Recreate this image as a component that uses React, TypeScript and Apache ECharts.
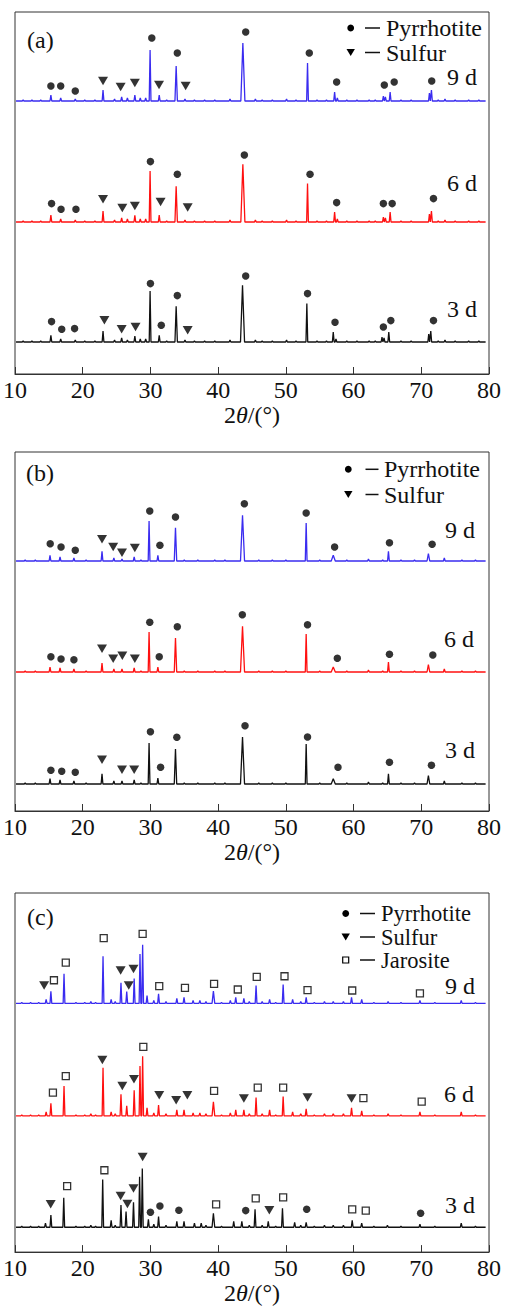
import React, { useEffect, useRef } from "react";
import * as echarts from "echarts";

type Peak = [number, number] | [number, number, number];
type Pt = [number, number];

// ---------- axis ----------
const X_MIN = 10;
const X_MAX = 80;
const X_STEP = 10;
const TRACE_START = 10.15;
const TRACE_END = 79.5;
const X_NAME = "2{i|θ}/(°)";
const DAYS = ["3 d", "6 d", "9 d"];
const PHASES = ["Pyrrhotite", "Sulfur", "Jarosite"];
const PANEL_TAGS = ["(a)", "(b)", "(c)"];

// ---------- panel (a): peaks [2θ, intensity above baseline, half-width?] ----------
const peaksA9: Peak[] = [[11.2,1],[12.5,1],[13.8,1],[15.3,6],[16.75,3],[18.9,2],[20.3,1],[21.8,1],[23.0,11],[24.7,2],[25.75,4],[26.6,3],[27.7,6],[28.5,3],[29.3,3],[29.95,51],[31.3,6],[32.4,1],[33.8,35,0.18],[35.1,2],[36.5,1],[38,1],[39.5,1],[41.75,2],[43.65,58,0.3],[45.5,2],[46.5,1],[48,1],[50.1,2],[51.5,1],[53.2,38],[54.6,1],[56,1],[57.2,9],[57.6,3],[59,1],[60.5,1],[62.3,1],[63.2,1],[64.4,5],[64.7,4],[65.4,9],[67,1],[68.5,1],[71.2,8],[71.5,11],[72.5,1],[73.5,2],[75,1],[77,1],[78.5,1]];
const peaksA6: Peak[] = [[11.2,1],[12.5,1],[13.8,1],[15.3,7],[16.75,3],[18.9,2],[20.3,1],[21.8,1],[23.0,11],[24.7,2],[25.75,4],[26.6,3],[27.7,6.7],[28.5,3],[29.3,3],[29.95,51],[31.3,7],[32.4,1],[33.8,35.7,0.18],[35.1,2],[36.5,1],[38,1],[39.5,1],[41.75,2],[43.65,57.7,0.3],[45.5,2],[46.5,1],[48,1],[50.1,2],[51.5,1],[53.2,38.4],[54.6,1],[56,1],[57.2,10],[57.6,3],[59,1],[60.5,1],[62.3,1],[63.2,1],[64.4,5],[64.7,4],[65.4,10],[67,1],[68.5,1],[71.2,8],[71.5,11],[72.5,1],[73.5,2],[75,1],[77,1],[78.5,1]];
const peaksA3: Peak[] = [[11.2,1],[12.5,1],[13.8,1],[15.3,6.7],[16.75,3],[18.9,2],[20.3,1],[21.8,1],[23.0,11],[24.7,2],[25.75,4],[26.6,2],[27.7,6],[28.5,3],[29.3,3],[29.95,51],[31.3,6.7],[32.4,1],[33.8,35.7,0.18],[35.1,2],[36.5,1],[38,1],[39.5,1],[41.75,2],[43.6,56.7,0.3],[45.5,2],[46.5,1],[48,1],[50.1,2],[51.5,1],[53.1,38.4],[54.6,1],[56,1],[57.0,10],[57.4,3],[59,1],[60.5,1],[62.3,1],[63.2,1],[64.2,5],[64.5,4],[65.2,10],[67,1],[68.5,1],[71.1,8],[71.4,11],[72.5,1],[73.5,2],[75,1],[77,1],[78.5,1]];
const offsetsA = [32, 152, 273];

const pyrA3: Pt[] = [[15.4,20.4],[16.9,12.7],[18.8,13.4],[30.0,58.4],[31.6,16.7],[33.97,46.4],[44.07,66],[53.2,48.4],[57.26,19.7],[64.4,15],[65.5,21.4],[71.8,21.4]];
const sulA3: Pt[] = [[23.2,21.7],[25.75,12.7],[27.8,15],[35.5,11.7]];
const pyrA6: Pt[] = [[15.4,18.4],[16.8,12.7],[19.0,12.7],[30.0,60.4],[33.97,47.7],[43.87,67],[53.57,47.7],[57.5,19.4],[64.4,18.4],[65.7,18.4],[71.8,23.4]];
const sulA6: Pt[] = [[23.0,22.7],[25.85,14],[27.7,16],[31.5,20],[35.5,14.4]];
const pyrA9: Pt[] = [[15.3,15],[16.75,15],[18.9,10],[30.2,63],[33.97,48],[44.07,69],[53.46,48],[57.5,19],[64.54,16],[66.0,19],[71.54,20]];
const sulA9: Pt[] = [[23.0,20],[25.6,14],[27.7,18],[31.27,16],[35.2,15]];

// ---------- panel (b) ----------
const peaksB9: Peak[] = [[11.5,1],[13,1],[15.17,5.7],[16.65,4],[18.7,3],[20.5,1],[22.85,9.7],[24.6,3],[25.8,2],[27.6,4],[28.6,1],[29.8,40],[31.1,5.7],[33.7,33.3,0.18],[35,1],[37,1],[39.5,1],[41,1],[43.6,45.7,0.3],[46,1],[48,1],[50,1],[53.0,38],[55,1],[57.0,5.7,0.3],[59,1],[62.2,2],[64.3,1],[65.15,9.7],[67,1],[69,1],[71.05,7.3,0.2],[73.4,3],[76,1],[78,1]];
const peaksB6: Peak[] = [[11.5,1],[13,1],[15.17,5],[16.65,4],[18.7,3],[20.5,1],[22.85,9],[24.6,3],[25.8,3],[27.6,4],[28.6,1],[29.8,40],[31.1,5],[33.7,34,0.18],[35,1],[37,1],[39.5,1],[41,1],[43.6,45.7,0.3],[46,1],[48,1],[50,1],[53.0,38],[55,1],[57.0,5,0.3],[59,1],[62.2,2],[64.3,1],[65.15,10],[67,1],[69,1],[71.05,7.3,0.2],[73.4,3],[76,1],[78,1]];
const peaksB3: Peak[] = [[11.5,1],[13,1],[15.17,5.3],[16.65,4],[18.7,3],[20.5,1],[22.85,10.3],[24.6,3],[25.8,3],[27.6,4],[28.6,1],[29.8,41],[31.1,6],[33.7,35,0.18],[35,1],[37,1],[39.5,1],[41,1],[43.6,47,0.3],[46,1],[48,1],[50,1],[53.0,40],[55,1],[57.0,5.3,0.3],[59,1],[62.2,2],[64.3,1],[65.15,10.3],[67,1],[69,1],[71.05,8.3,0.2],[73.4,3],[76,1],[78,1]];
const offsetsB = [27, 139, 250];

const pyrB3: Pt[] = [[15.3,13.7],[16.9,12.7],[18.9,11.7],[30.0,52.3],[31.5,16.7],[33.9,46.7],[43.97,58.3],[53.2,47],[57.7,16.7],[65.3,21.7],[71.5,18.7]];
const sulB3: Pt[] = [[22.85,24.3],[25.8,14.3],[27.6,14.3]];
const pyrB6: Pt[] = [[15.3,15.3],[16.8,13],[18.7,12.3],[29.9,49.7],[31.3,15.3],[33.97,45.3],[43.57,57.3],[53.2,47.3],[57.6,13.7],[65.3,17.7],[71.7,17]];
const sulB6: Pt[] = [[22.85,23.3],[24.5,13.3],[25.85,16.3],[27.7,13.3]];
const pyrB9: Pt[] = [[15.2,17.3],[16.8,14],[18.9,10.7],[29.9,50],[31.4,15.7],[33.7,44],[43.87,57.3],[53.0,48],[57.2,14],[65.3,18.3],[71.6,16.7]];
const sulB9: Pt[] = [[22.85,21.7],[24.5,14],[25.8,8.3],[27.7,13]];

// ---------- panel (c) ----------
const peaksC9: Peak[] = [[11,1],[12.3,1],[13.5,1],[14.6,4],[15.3,12.3],[17.24,29.7],[19,1],[20.3,1],[21.2,2],[21.9,1],[23.0,47.3],[24.2,4],[24.8,2],[25.65,20.7],[26.5,12],[27.6,25],[28.46,49.7],[28.85,59],[29.5,8],[30.5,3],[31.2,9.7],[32.3,2],[33.9,5],[34.96,6],[36.3,3],[37.3,3],[38.2,2],[39.3,12.3,0.2],[40.5,1],[41.8,3],[42.6,6],[43.8,5],[44.6,2],[45.6,18],[46.5,2],[47.6,4],[48.5,1],[49.6,19],[51.0,4],[52.2,2],[53.0,6],[54.2,1],[55.7,2],[57,2],[58.5,2],[59.7,6],[61.2,4],[63,1],[65.1,2],[67,1],[69.8,3],[72,1],[75.9,3],[78,1]];
const peaksC6: Peak[] = [[11,1],[12.3,1],[13.5,1],[14.6,4],[15.3,12.7],[17.24,30],[19,1],[20.3,1],[21.2,2],[21.9,1],[23.0,48.3],[24.2,4],[24.8,2],[25.65,21.7],[26.5,10],[27.6,25.7],[28.46,50],[28.85,60],[29.5,8],[30.5,3],[31.2,10.7],[32.3,2],[33.9,6],[34.96,6],[36.3,3],[37.3,3],[38.2,2],[39.3,14,0.2],[40.5,1],[41.8,3],[42.6,6],[43.8,6],[44.6,2],[45.6,18.3],[46.5,2],[47.6,6],[48.5,1],[49.6,19.3],[51.0,4],[52.2,2],[53.0,7],[54.2,1],[55.7,2],[57,2],[58.5,2],[59.7,8],[61.2,5],[63,1],[65.1,2],[67,1],[69.8,4],[72,1],[75.9,4],[78,1]];
const peaksC3: Peak[] = [[11,1],[12.3,1],[13.5,1],[14.5,4],[15.3,12.3],[17.2,29.7],[19,1],[20.3,1],[21.2,2],[21.9,1],[22.95,48],[24.2,7],[24.8,2],[25.65,22.3],[26.4,15.7],[27.5,25],[28.4,50.7],[28.8,59],[29.7,8],[30.5,3],[31.2,10.7],[32.3,2],[33.9,6],[34.96,6],[36.5,4],[37.5,4],[38.2,2],[39.3,14,0.2],[40.5,1],[42.3,6],[43.5,6],[44.6,2],[45.45,18],[46.5,2],[47.4,6],[48.5,1],[49.5,19],[51.3,5],[52.2,2],[53.0,5],[54.2,1],[55.7,2],[57,2],[58.5,2],[59.8,7],[61.2,4],[63,1],[65.0,2],[67,1],[69.8,3],[72,1],[75.9,4],[78,1]];
const offsetsC = [25, 137, 250];

const pyrC3: Pt[] = [[30.0,15],[31.4,21.3],[34.2,17],[44.07,16.7],[53.08,18],[69.9,14]];
const sulC3: Pt[] = [[15.27,23],[25.6,31.3],[26.6,23.3],[27.5,39],[28.85,70.7],[47.56,17]];
const jarC3: Pt[] = [[17.7,41.3],[23.2,57.3],[39.7,23],[45.55,29],[49.6,30],[59.8,18],[61.8,16.7]];
const sulC6: Pt[] = [[22.9,56],[25.85,30],[27.57,36.7],[31.3,20.7],[33.8,15.7],[35.45,20.7],[43.8,17.3],[53.2,18.3],[59.7,17.3]];
const jarC6: Pt[] = [[15.6,23.3],[17.5,40],[28.95,69.3],[39.4,25],[45.85,28.3],[49.6,28.3],[61.45,17.7],[70.06,14.3]];
const sulC9: Pt[] = [[14.3,18],[25.6,33],[26.8,18],[27.5,34.7]];
const jarC9: Pt[] = [[15.75,23.3],[17.5,41],[23.1,65.7],[28.85,70],[31.3,17.3],[35.1,15.7],[39.4,19.7],[42.9,14],[45.7,26.7],[49.8,27.3],[53.2,13.3],[59.8,13],[69.8,10]];

// ---------- layout / styles ----------
const FONT = "'Liberation Serif', 'Times New Roman', serif";
const FS = 24;
const COLORS = ["#111111", "#ff1010", "#3a2cf0"];
const GRIDS = [
  { top: 12, height: 362 },
  { top: 452, height: 359 },
  { top: 893, height: 361 },
];
const GRID_LEFT = 15;
const GRID_RIGHT = 17;
const TRI_PATH = "path://M0,0L10,0L5,8.5Z";

function trace(peaks: Peak[], offset: number): Pt[] {
  const sorted = [...peaks].sort((a, b) => a[0] - b[0]);
  const pts: Pt[] = [[TRACE_START, offset]];
  for (const p of sorted) {
    const hw = p[2] ?? 0.13;
    pts.push([p[0] - hw, offset], [p[0], offset + p[1]], [p[0] + hw, offset]);
  }
  pts.push([TRACE_END, offset]);
  return pts;
}
const lift = (pts: Pt[], offset: number): Pt[] => pts.map(([x, h]) => [x, offset + h]);

const panels = [
  {
    traces: [peaksA3, peaksA6, peaksA9],
    offsets: offsetsA,
    pyr: [pyrA3, pyrA6, pyrA9],
    sul: [sulA3, sulA6, sulA9],
    jar: [[], [], []] as Pt[][],
    phases: 2,
    dayPos: [[462, 309], [462, 183], [462, 77]],
    legend: { x: 350.7, dashL: 365, dashR: 380, textX: 386, rows: [28, 52.5], size: FS },
    tag: [27, 40],
  },
  {
    traces: [peaksB3, peaksB6, peaksB9],
    offsets: offsetsB,
    pyr: [pyrB3, pyrB6, pyrB9],
    sul: [sulB3, sulB6, sulB9],
    jar: [[], [], []] as Pt[][],
    phases: 2,
    dayPos: [[460, 750], [459, 639], [460, 530]],
    legend: { x: 348.3, dashL: 365.5, dashR: 378.5, textX: 384, rows: [469.3, 494.5], size: FS },
    tag: [26, 473],
  },
  {
    traces: [peaksC3, peaksC6, peaksC9],
    offsets: offsetsC,
    pyr: [pyrC3, [], []] as Pt[][],
    sul: [sulC3, sulC6, sulC9],
    jar: [jarC3, jarC6, jarC9],
    phases: 3,
    dayPos: [[460, 1205], [459, 1094], [460, 986]],
    legend: { x: 345.7, dashL: 360, dashR: 375, textX: 381, rows: [913.5, 937, 960], size: 22.5 },
    tag: [27, 917],
  },
];

function buildOption() {
  const grid: any[] = [];
  const xAxis: any[] = [];
  const yAxis: any[] = [];
  const series: any[] = [];
  const graphic: any[] = [];

  panels.forEach((p, gi) => {
    const g = GRIDS[gi];
    grid.push({
      left: GRID_LEFT, right: GRID_RIGHT, top: g.top, height: g.height,
      show: true, borderColor: "#333", borderWidth: 1, backgroundColor: "transparent",
    });
    xAxis.push({
      gridIndex: gi, type: "value", min: X_MIN, max: X_MAX, interval: X_STEP,
      axisLine: { show: true, onZero: false, lineStyle: { color: "#333", width: 1 } },
      axisTick: { show: true, inside: true, length: 7, lineStyle: { color: "#333", width: 1 } },
      splitLine: { show: false },
      axisLabel: { color: "#111", fontFamily: FONT, fontSize: FS, margin: 4 },
      name: X_NAME, nameLocation: "middle", nameGap: gi === 1 ? 28 : 26,
      nameTextStyle: {
        color: "#111", fontFamily: FONT, fontSize: FS,
        rich: { i: { fontStyle: "italic", fontFamily: FONT, fontSize: FS, color: "#111" } },
      },
    });
    yAxis.push({ gridIndex: gi, type: "value", min: 0, max: g.height, show: false });

    p.traces.forEach((pk, di) => {
      series.push({
        type: "line", name: DAYS[di], xAxisIndex: gi, yAxisIndex: gi,
        data: trace(pk, p.offsets[di]), symbol: "none", silent: true,
        lineStyle: { color: COLORS[di], width: 1.3 }, z: 2,
      });
      const common = { type: "scatter", xAxisIndex: gi, yAxisIndex: gi, silent: true, z: 3 };
      if (p.pyr[di].length)
        series.push({ ...common, name: PHASES[0], data: lift(p.pyr[di], p.offsets[di]), symbol: "circle", symbolSize: 7.5, itemStyle: { color: "#000" } });
      if (p.sul[di].length)
        series.push({ ...common, name: PHASES[1], data: lift(p.sul[di], p.offsets[di]), symbol: TRI_PATH, symbolSize: [10, 8.5], itemStyle: { color: "#000" } });
      if (p.jar[di].length)
        series.push({ ...common, name: PHASES[2], data: lift(p.jar[di], p.offsets[di]), symbol: "rect", symbolSize: 7, itemStyle: { color: "#fff", borderColor: "#000", borderWidth: 1.3 } });

      graphic.push({
        type: "text", x: p.dayPos[di][0], y: p.dayPos[di][1], silent: true,
        style: { text: DAYS[di], fill: "#111", font: `${FS}px 'Liberation Serif'`, align: "center", verticalAlign: "middle" },
      });
    });

    graphic.push({
      type: "text", x: p.tag[0], y: p.tag[1], silent: true,
      style: { text: PANEL_TAGS[gi], fill: "#111", font: `${FS}px 'Liberation Serif'`, align: "left", verticalAlign: "middle" },
    });

    const L = p.legend;
    for (let k = 0; k < p.phases; k++) {
      const cy = L.rows[k];
      if (k === 0) graphic.push({ type: "circle", silent: true, shape: { cx: L.x, cy, r: 3.4 }, style: { fill: "#000" } });
      if (k === 1) graphic.push({ type: "polygon", silent: true, shape: { points: [[L.x - 4.2, cy - 3.4], [L.x + 4.2, cy - 3.4], [L.x, cy + 3.6]] }, style: { fill: "#000" } });
      if (k === 2) graphic.push({ type: "rect", silent: true, shape: { x: L.x - 3, y: cy - 3, width: 6, height: 6 }, style: { fill: "#fff", stroke: "#000", lineWidth: 1.2 } });
      graphic.push({ type: "line", silent: true, shape: { x1: L.dashL, y1: cy, x2: L.dashR, y2: cy }, style: { stroke: "#111", lineWidth: 1.5 } });
      graphic.push({
        type: "text", x: L.textX, y: cy, silent: true,
        style: { text: PHASES[k], fill: "#111", font: `${L.size}px 'Liberation Serif'`, align: "left", verticalAlign: "middle" },
      });
    }
  });

  return { animation: false, backgroundColor: "#fff", grid, xAxis, yAxis, series, graphic };
}

export default function App() {
  const ref = useRef<HTMLDivElement>(null);
  useEffect(() => {
    if (!ref.current) return;
    const chart = echarts.init(ref.current, undefined, { renderer: "svg" });
    chart.setOption(buildOption() as any);
    return () => chart.dispose();
  }, []);
  return (
    <div
      ref={ref}
      style={{ position: "absolute", left: 0, top: 0, width: 506, height: 1306, background: "#fff" }}
    />
  );
}
